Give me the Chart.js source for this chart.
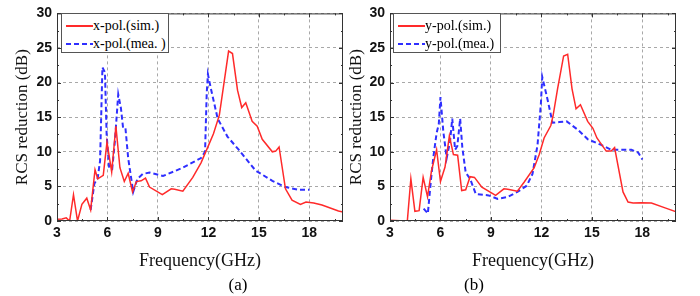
<!DOCTYPE html>
<html>
<head>
<meta charset="utf-8">
<script src="https://cdn.jsdelivr.net/npm/chart.js@4"></script>
<style>
  body{ margin:0; background:#fff; }
  #wrap{ position:relative; width:700px; height:296px; overflow:hidden; }
  canvas{ position:absolute; top:0; }
  .legend{ position:absolute; top:13px; width:106px; height:38px; border:1px solid #555; background:#fff;
           font-family:"Liberation Serif","Times New Roman",serif; font-size:14px; color:#000; }
  .row{ position:absolute; left:0; height:18px; line-height:18px; white-space:nowrap; }
  .sample{ position:absolute; top:8px; width:27px; height:2px; }
  .txt{ position:absolute; left:31px; top:0; }
  .cap{ position:absolute; top:275px; font-family:"Liberation Serif","Times New Roman",serif; font-size:17px; transform:translateX(-50%); }
</style>
</head>
<body>
<div id="wrap">
  <canvas id="chA" width="350" height="296" style="left:0"></canvas>
  <canvas id="chB" width="360" height="296" style="left:340px"></canvas>
  <div class="legend" id="legA" style="left:61px"></div>
  <div class="legend" id="legB" style="left:393px"></div>
  <div class="cap" style="left:238px">(a)</div>
  <div class="cap" style="left:474px">(b)</div>
</div>
<script>
// ---- data ----
const xTicks = [3, 6, 9, 12, 15, 18];
const yTicks = [0, 5, 10, 15, 20, 25, 30];

// (a) x-pol, simulated
const xSimFreq = [3.0,3.3,3.55,3.75,3.98,4.22,4.48,4.77,5.0,5.26,5.42,5.75,5.97,6.25,6.5,6.74,7.0,7.23,7.49,7.72,8.0,8.26,8.5,9.26,9.79,10.0,10.48,11.07,11.56,11.95,12.3,12.65,13.2,13.43,13.73,13.98,14.22,14.6,14.9,15.2,15.8,16.0,16.2,16.58,16.97,17.47,17.8,18.26,18.75,19.73,20.0];
const xSim     = [0.25,0.3,0.45,0,3.8,0,2.4,3.3,1.6,7.4,6.1,6.6,11.4,7.1,13.7,7.7,5.7,6.9,4.2,5.7,5.8,6.2,4.9,3.8,4.65,4.6,4.3,6.3,8.4,10.6,12.6,15.3,24.55,24.2,18.9,16.4,17.1,14.4,13.7,11.8,10.0,10.1,10.7,4.65,3.0,2.4,2.75,2.6,2.3,1.45,1.3];
// (a) x-pol, measured
const xMeaFreq = [5.0,5.22,5.42,5.56,5.7,5.85,5.95,6.1,6.28,6.44,6.64,6.8,6.93,7.07,7.23,7.53,7.78,8.1,8.5,9.3,10.48,11.56,11.8,11.9,11.97,12.15,12.55,13.13,13.8,14.8,15.8,16.58,17.4,18.0];
const xMea     = [1.6,5.4,6.2,8.7,22.2,21.5,12.5,7.7,7.5,11.5,18.3,16.3,13.4,13.4,9.1,4.2,6.1,6.8,7.0,6.5,7.7,9.1,10.0,18.5,21.2,19.1,14.8,12.2,10.3,7.3,5.8,4.9,4.5,4.5];

// (b) y-pol, simulated
const ySimFreq = [3.0,3.9,4.03,4.24,4.48,4.73,4.97,5.23,5.47,5.77,6.0,6.27,6.53,6.77,7.02,7.26,7.5,7.76,8.02,8.46,9.28,9.77,10.0,10.57,10.97,11.57,11.87,12.16,12.56,12.7,12.96,13.32,13.56,13.82,14.06,14.32,14.75,15.06,15.3,15.85,16.15,16.35,16.85,17.15,17.45,17.95,18.54,19.35,20.03];
const ySim     = [0.1,0,0,6.1,1.4,1.5,6.3,3.5,7.3,10.3,5.7,7.8,12.3,9.6,9.5,4.4,4.5,6.4,6.3,4.9,3.7,4.65,4.6,4.3,5.6,7.7,9.6,12.0,13.8,15.3,19.1,23.85,24.1,19.1,16.2,16.8,14.4,13.4,12.0,10.1,10.1,10.6,4.2,2.75,2.6,2.65,2.6,1.9,1.3];
// (b) y-pol, measured
const yMeaFreq = [5.0,5.25,5.43,5.57,5.77,5.9,6.0,6.17,6.37,6.57,6.7,6.87,7.0,7.17,7.3,7.5,7.76,8.1,8.86,9.4,9.97,10.57,11.13,11.47,11.77,11.97,12.05,12.37,12.66,13.06,13.5,14.16,14.76,15.55,16.15,17.35,17.75,18.0];
const yMea     = [1.8,1.1,5.8,9.1,12.7,14.0,17.9,12.9,9.1,11.5,14.8,10.3,10.8,14.8,10.6,7.0,6.1,3.9,3.7,3.2,3.45,4.2,5.1,6.8,11.0,17.0,20.8,17.5,14.2,14.3,14.4,13.2,11.8,11.0,10.3,10.3,9.9,8.9];

const RED = '#ff2a2a', BLUE = '#2f2fff';
const pts = (xs, ys) => xs.map((x,i) => ({x, y: ys[i]}));

// box frame + inward ticks like the original plotting program
const framePlugin = {
  id: 'frame',
  afterDatasetsDraw(chart){
    const {ctx, chartArea: a, scales} = chart;
    const xs = scales.x, ys = scales.y;
    ctx.save();
    ctx.strokeStyle = '#333';
    ctx.lineWidth = 1;
    ctx.setLineDash([]);
    ctx.strokeRect(a.left+0.5, a.top+0.5, a.right-a.left-1, a.bottom-a.top-1);
    ctx.beginPath();
    for(let v = 3; v <= 20; v += 1.5){
      const px = Math.round(xs.getPixelForValue(v))+0.5;
      const len = (v % 3 === 0) ? 4 : 2;
      ctx.moveTo(px, a.bottom); ctx.lineTo(px, a.bottom-len);
      ctx.moveTo(px, a.top); ctx.lineTo(px, a.top+len);
    }
    for(let v = 0; v <= 30; v += 2.5){
      const py = Math.round(ys.getPixelForValue(v))+0.5;
      const len = (v % 5 === 0) ? 4 : 2;
      ctx.moveTo(a.left, py); ctx.lineTo(a.left+len, py);
      ctx.moveTo(a.right, py); ctx.lineTo(a.right-len, py);
    }
    ctx.stroke();
    ctx.restore();
  }
};

function makeChart(id, labels, sim, mea, dims){
  const tickFont = {family:'"Liberation Sans", Arial, sans-serif', size:14, weight:'bold'};
  const titleFont = {family:'"Liberation Serif", "Times New Roman", serif', size:17};
  return new Chart(document.getElementById(id), {
    type:'line',
    data:{
      datasets:[
        {label:labels[0], data:sim, borderColor:RED, borderWidth:1.5, pointRadius:0, tension:0, fill:false},
        {label:labels[1], data:mea, borderColor:BLUE, borderWidth:2, borderDash:[5,3], pointRadius:0, tension:0, fill:false}
      ]
    },
    options:{
      responsive:false,
      animation:false,
      devicePixelRatio:1,
      layout:{padding:{top:10, right:dims.right, left:0, bottom:0}},
      plugins:{legend:{display:false}, tooltip:{enabled:false}},
      scales:{
        x:{
          type:'linear', min:3, max:20,
          afterBuildTicks: s => { s.ticks = xTicks.map(v => ({value:v})); },
          afterFit: s => { s.height = 75; },
          ticks:{font:tickFont, color:'#111', padding:4, autoSkip:false, maxRotation:0},
          grid:{color:'#a8a8a8', drawTicks:false},
          border:{display:false, dash:[3,3]},
          title:{display:true, text:'Frequency(GHz)', font:{...titleFont, size:18}, color:'#111', padding:{bottom:24}}
        },
        y:{
          type:'linear', min:0, max:30,
          afterBuildTicks: s => { s.ticks = yTicks.map(v => ({value:v})); },
          afterFit: s => { s.width = dims.left; },
          ticks:{font:tickFont, color:'#111', padding:dims.tickPad},
          grid:{color:'#a8a8a8', drawTicks:false},
          border:{display:false, dash:[3,3]},
          title:{display:true, text:'RCS reduction (dB)', font:titleFont, color:'#111', padding:{top:dims.titlePad}}
        }
      }
    },
    plugins:[framePlugin]
  });
}

function buildLegend(boxId, chart){
  const box = document.getElementById(boxId);
  chart.data.datasets.forEach((ds, i) => {
    const row = document.createElement('div');
    row.className = 'row';
    row.style.top = (3 + i*18) + 'px';
    const s = document.createElement('span');
    s.className = 'sample';
    s.style.left = '4px';
    s.style.background = ds.borderDash
      ? `repeating-linear-gradient(to right, ${ds.borderColor} 0 5px, transparent 5px 8px)`
      : ds.borderColor;
    const t = document.createElement('span');
    t.className = 'txt';
    t.textContent = ds.label;
    row.appendChild(s); row.appendChild(t);
    box.appendChild(row);
  });
}

const chartA = makeChart('chA', ['x-pol.(sim.)', 'x-pol.(mea. )'], pts(xSimFreq, xSim), pts(xMeaFreq, xMea),
  {left:57, right:7, tickPad:5, titlePad:12});
const chartB = makeChart('chB', ['y-pol.(sim.)', 'y-pol.(mea.)'], pts(ySimFreq, ySim), pts(yMeaFreq, yMea),
  {left:50, right:24, tickPad:5, titlePad:6});
buildLegend('legA', chartA);
buildLegend('legB', chartB);
</script>
</body>
</html>
